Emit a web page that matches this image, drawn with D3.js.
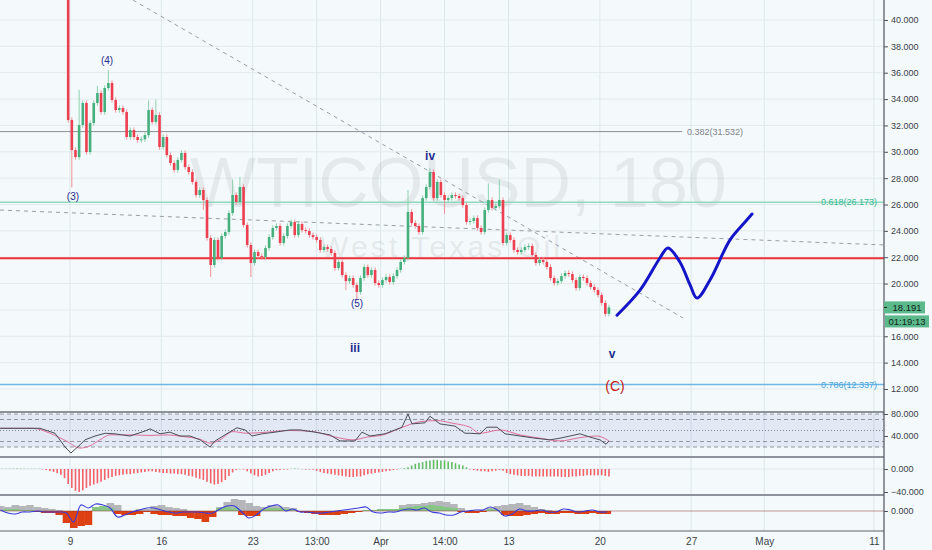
<!DOCTYPE html>
<html><head><meta charset="utf-8">
<script src="https://cdn.jsdelivr.net/npm/d3@7"></script>
<style>
html,body{margin:0;padding:0;background:#f4fafb;}
svg{display:block;font-family:"Liberation Sans",Arial,sans-serif;}
</style></head><body>
<svg id="c" width="932" height="550"></svg>
<script>
// ---------------- DATA ----------------
// 3h-ish candles, one bar = 1/5 trading day, bar 0 = Mar 9 gap-down
const firstOpen = 41.6;
const closes = [
 32.41,30.13,29.60,32.03,33.70,29.98,32.18,33.70,34.46,33.02,
 34.84,35.22,33.93,33.17,33.32,33.02,31.12,31.65,31.12,30.89,
 30.95,31.27,33.17,32.26,32.79,30.36,31.12,29.75,29.15,28.62,
 29.38,29.91,28.84,28.46,27.71,26.72,27.10,26.34,23.46,21.41,
 23.31,21.94,23.61,23.91,25.35,26.72,26.19,27.33,24.44,22.93,
 21.56,22.39,22.09,22.02,22.70,23.53,24.22,24.37,23.08,23.61,
 24.37,24.67,23.68,24.52,24.06,23.99,23.68,23.53,23.31,22.55,
 22.77,22.62,22.32,21.18,21.64,20.65,20.19,20.42,19.89,19.36,
 20.42,21.26,20.65,21.03,20.04,19.89,20.27,20.50,20.12,20.57,
 21.03,21.64,21.94,25.43,24.59,24.37,23.91,26.49,27.33,28.46,
 26.49,27.71,26.72,26.34,26.49,26.72,26.64,26.49,25.96,24.67,
 24.75,24.97,24.22,23.91,25.58,26.34,25.74,25.88,26.34,23.08,
 23.68,23.31,22.55,22.39,22.55,22.77,22.85,22.17,21.56,21.79,
 21.64,21.26,20.42,20.04,20.19,20.57,20.80,20.72,20.27,19.66,
 20.50,20.42,20.04,19.74,19.51,19.13,18.53,17.70,18.19
];
const wickBar = [1,3,8,11,22,24,37,39,45,47,50,76,79,93,99,103,115,118];
const wickHi  = [null,34.7,35.0,36.2,33.9,33.95,null,null,27.9,28.1,null,null,null,27.1,28.75,null,27.6,27.9];
const wickLo  = [27.3,null,null,null,null,null,25.6,20.5,null,null,20.5,19.5,18.7,null,null,25.3,null,null];
const lastPrice = 18.191;
const countdown = "01:19:13";

const priceTicks = [12,14,16,18,20,22,24,26,28,30,32,34,36,38,40];
const tickDays   = [0,5,10,13.5,17,20.5,24,29,34,38,44];
const tickLabels = ["9","16","23","13:00","Apr","14:00","13","20","27","May","11"];

// fibonacci levels
const fibRatio = ["0.382","0.618","0.786"];
const fibPrice = [31.532,26.173,12.337];
const redLevel = 21.92;

// trend lines [day, price]
const trendA = [[3.45,41.51],[33.55,17.39]];
const trendB = [[-3.83,25.58],[44.55,22.93]];

// projected wave path [day, price]
const waveDays  = [29.94,31.2,32.29,32.73,33.38,33.94,34.32,35.03,36.12,36.95,37.33];
const wavePrice = [17.6,19.5,21.94,22.7,21.64,19.9,18.9,20.27,23.3,24.67,25.28];

// wave labels
const lblText  = ["(4)","(3)","(5)","iv","iii","v","(C)"];
const lblDay   = [2.03,0.16,15.71,19.71,15.6,29.67,29.83];
const lblPrice = [36.89,26.57,18.45,29.68,15.11,14.66,12.23];

// RSI
const rsiDays = [-3.83,-1.64,-0.82,-0.27,0.05,0.55,0.82,1.37,1.92,2.46,3.28,4.1,4.38,4.93,5.47,6.02,6.57,7.12,7.66,7.94,8.48,9.14,9.58,9.96,10.51,11.22,12.04,12.59,13.41,14.23,14.78,15.6,15.98,16.42,17.24,17.79,18.17,18.5,18.72,19.43,19.7,20.25,21.07,21.62,21.89,22.44,22.82,23.37,23.81,24.63,25.45,26.27,26.82,27.37,27.91,28.46,29.01,29.34,29.5];
const rsiVals = [54,54,45,20,9,24,33,40,45,44,40,49,53,44,47,40,40,33,20,31,42,55,51,40,44,47,51,51,47,42,31,31,47,40,44,51,56,80,62,64,76,62,58,45,45,44,56,56,44,40,36,33,36,40,44,38,33,25,31];
const maDays = [-3.83,-2.03,-1.09,-0.16,0.55,1.09,1.64,2.19,3.45,4.38,5.31,6.18,7.12,7.66,8.21,8.92,9.69,10.78,12.04,13.3,14.4,15.49,16.26,17.13,18.06,19.16,20.09,20.96,21.89,22.44,23.54,24.63,25.73,26.82,27.91,28.85,29.5];
const maVals = [54,54,45,30,18,22,33,42,42,41,42,39,34,27,33,48,45,47,50,48,39,33,38,42,54,66,68,63,56,45,51,42,36,31,37,40,31];

// MACD histogram, one value per bar from bar -18 to bar 148
const macdHist = [
 0.5,0.5,0.6,0.6,0.7,0.7,0.6,0.6,0.5,0.4,0.3,-0.5,-2,-3.5,-5,-7,-10,-16,
 -26,-33,-38,-40,-37,-33,-29,-27,-25,-22,
 -19,-16,-14,-12,-11,-10,-9,-9,-8,-7,
 -6,-5,-4,-4,-5,-6,-7,-7,-8,-8,
 -9,-9,-10,-12,-13,-15,-17,-19,-22,-25,
 -27,-26,-23,-19,-12,-6,-2,-0.5,-1,-4,
 -8,-11,-13,-12,-10,-7,-4,-2,-1.5,-1,
 -1,0.5,0.8,0.5,-0.5,-1,-1,-1.5,-3,-5,
 -7,-8,-9,-10,-11,-12,-13,-14,-14,-13,
 -13,-11,-9,-8,-7,-6,-5,-4,-3,-2,
 -1,0.5,1.5,3,6,9,11,12,14,15,
 16,16,15,15,13,12,10,8,6,3,
 -1,-2,-3,-4,-4,-5,-4,-3,-1.5,-3,
 -7,-9,-10,-11,-12,-12,-12,-13,-13,-13,
 -13,-13,-13,-13,-13,-14,-14,-14,-13,-13,
 -12,-12,-11,-11,-11,-11,-11,-12,-13
];
const macdFirstBar = -18;

// third pane, samples every 0.4 day from day -3.8
const p3Start = -3.8, p3Step = 0.4;
const p3Grey = [5,4,6,5,6,4,3,2,1,0, 0,0,0,4,5,8,6,0,0,2, 2,5,6,4,3,2,0,0,0,0, 4,9,12,11,8,5,4,6,5,4, 3,0,0,0,0,0,0,0,0,0, 0,0,0,1,2,6,7,7,8,9, 10,9,7,3,0,0,1,3,5,6, 7,8,6,4,2,1,0,0,0,0, 0,0,0,0];
const p3Mom  = [1,2,2,1,1,-1,-2,-2,-4,-12, -17,-15,-14,4,5,3,-3,-4,-4,-3, -1,-3,-4,-4,-5,-5,-7,-8,-11,-6, 3,4,3,-4,-5,-5,2,3,3,2, 1,-1,-2,-3,-4,-4,-4,-3,-2,-1, 1,1,2,2,2,3,4,5,5,6, 5,4,3,-1,-2,-2,-1,2,1,-4, -5,-5,-4,-3,-2,-3,-3,-2,-2,-3, -3,-2,-3,-3];
const p3Line = [1,-2,-3,-1,-1,0,-1,-1,-1,-2, -11,6,3,7,6,3,-6,-4,-1,1, 3,3,1,-1,-2,-1,-1,-1,-2,-2, 2,5,5,-1,-7,-4,2,5,6,0, 2,-1,-1,-2,-2,-1,0,1,2,3, 4,-1,-2,-1,-1,1,2,1,3,-1, -2,-4,-4,-1,0,1,1,4,1,-5, -3,2,0,0,1,-1,-1,2,1,-1, 0,1,-1,-1];

// ---------------- CHART ----------------
const W = 932, H = 550, AX = 884;
const svg = d3.select("#c");
const x = d3.scaleLinear().domain([0,44]).range([70, 70 + 44*18.27]);
const y = d3.scaleLinear().domain([12,40]).range([389,20]);
const yR = d3.scaleLinear().domain([20,80]).range([447,414]);
const yM = d3.scaleLinear().domain([-40,0]).range([492,469]);
const yP = d3.scaleLinear().domain([-20,16]).range([531,495]);
const barDay = b => b/5 - 0.1;

const defs = svg.append("defs");
[["cMain",0,412],["cR",412,457],["cM",457,495],["cP",495,531]].forEach(([id,t,b]) =>
  defs.append("clipPath").attr("id",id).append("rect").attr("x",0).attr("y",t).attr("width",AX).attr("height",b-t));

svg.append("rect").attr("width",W).attr("height",H).attr("fill","#f4fafb");

// grid
svg.append("g").selectAll("line").data(tickDays).join("line")
  .attr("x1",d=>x(d)).attr("x2",d=>x(d)).attr("y1",0).attr("y2",531)
  .attr("stroke","#dde7ea").attr("stroke-width",1);
svg.append("g").selectAll("line").data(priceTicks).join("line")
  .attr("x1",0).attr("x2",AX).attr("y1",d=>y(d)).attr("y2",d=>y(d))
  .attr("stroke","#e2eaec").attr("stroke-width",1);

const main = svg.append("g").attr("clip-path","url(#cMain)");

// watermark (symbol + description), very faint
const wm = main.append("g").attr("opacity",0.07).attr("fill","#1e2a30");
wm.append("text").attr("x",190).attr("y",207).attr("font-size",70).text("WTICOUSD, 180");
wm.append("text").attr("x",440).attr("y",257).attr("font-size",30).attr("text-anchor","middle")
  .attr("textLength",240).attr("lengthAdjust","spacing").text("West Texas Oil");

// fib levels
const fibColor = ["#8a8d96","#8fd9bd","#6fb7e6"];
const fibText = ["#80838c","#35b891","#45a4e0"];
main.append("line").attr("x1",0).attr("x2",x(33.5)).attr("y1",y(fibPrice[0])).attr("y2",y(fibPrice[0]))
  .attr("stroke",fibColor[0]).attr("stroke-width",1);
main.append("text").attr("x",x(33.5)+5).attr("y",y(fibPrice[0])).attr("dy","0.35em")
  .attr("font-size",9).attr("fill",fibText[0]).text(`${fibRatio[0]}(${fibPrice[0].toFixed(3)})`);
[1,2].forEach(i=>{
  main.append("line").attr("x1",0).attr("x2",AX).attr("y1",y(fibPrice[i])).attr("y2",y(fibPrice[i]))
    .attr("stroke",fibColor[i]).attr("stroke-width",1.5);
  main.append("text").attr("x",877).attr("y",y(fibPrice[i])).attr("dy","0.35em").attr("text-anchor","end")
    .attr("font-size",9).attr("fill",fibText[i]).text(`${fibRatio[i]}(${fibPrice[i].toFixed(3)})`);
});

// trend lines
[trendA,trendB].forEach(t=>{
  main.append("line").attr("x1",x(t[0][0])).attr("y1",y(t[0][1])).attr("x2",x(t[1][0])).attr("y2",y(t[1][1]))
    .attr("stroke","#9a9ea6").attr("stroke-width",1).attr("stroke-dasharray","4,4");
});

// red level
main.append("line").attr("x1",0).attr("x2",AX).attr("y1",y(redLevel)).attr("y2",y(redLevel))
  .attr("stroke","#ee3038").attr("stroke-width",2);

// candles
const bars = closes.map((c,i)=>{
  const o = i===0 ? firstOpen : closes[i-1];
  let hi = Math.max(o,c)+0.2, lo = Math.min(o,c)-0.2;
  const j = wickBar.indexOf(i);
  if (j>=0){ if (wickHi[j]!=null) hi = wickHi[j]; if (wickLo[j]!=null) lo = wickLo[j]; }
  return {i,o,c,hi,lo,up:c>=o};
});
const upC = "#45b07d", dnC = "#ec3f50";
const cg = main.append("g");
cg.selectAll("line").data(bars).join("line")
  .attr("x1",d=>x(barDay(d.i))).attr("x2",d=>x(barDay(d.i)))
  .attr("y1",d=>y(d.hi)).attr("y2",d=>y(d.lo))
  .attr("stroke",d=>d.up?"#8fd1b0":"#f0909a").attr("stroke-width",1);
cg.selectAll("rect").data(bars).join("rect")
  .attr("x",d=>x(barDay(d.i))-1.3).attr("width",2.6)
  .attr("y",d=>y(Math.max(d.o,d.c)))
  .attr("height",d=>Math.max(1,Math.abs(y(d.o)-y(d.c))))
  .attr("fill",d=>d.up?upC:dnC);

// projected wave
const wave = waveDays.map((d,i)=>[x(d),y(wavePrice[i])]);
main.append("path").attr("d",d3.line().curve(d3.curveCatmullRom.alpha(0.5))(wave))
  .attr("fill","none").attr("stroke","#1414c8").attr("stroke-width",3).attr("stroke-linecap","round");

// wave labels
lblText.forEach((t,i)=>{
  const isC = t==="(C)", roman = !t.startsWith("(");
  main.append("text").attr("x",x(lblDay[i])).attr("y",y(lblPrice[i])).attr("dy","0.35em")
    .attr("text-anchor","middle")
    .attr("font-size",isC?14:(roman?12:10))
    .attr("font-weight",roman?"bold":"normal")
    .attr("fill",isC?"#c62020":"#1f2a8f").text(t);
});

// ---------- RSI pane ----------
const rg = svg.append("g").attr("clip-path","url(#cR)");
rg.append("rect").attr("x",0).attr("width",AX).attr("y",yR(80)).attr("height",yR(20)-yR(80))
  .attr("fill","#6f72c8").attr("opacity",0.13);
[80,70,30,20].forEach(v=>rg.append("line").attr("x1",0).attr("x2",AX).attr("y1",yR(v)).attr("y2",yR(v))
  .attr("stroke","#7d808a").attr("stroke-width",0.8).attr("stroke-dasharray","4,3"));
rg.append("line").attr("x1",0).attr("x2",AX).attr("y1",yR(50)).attr("y2",yR(50))
  .attr("stroke","#6d707a").attr("stroke-width",0.8).attr("stroke-dasharray","1,2");
rg.append("path").attr("d",d3.line().curve(d3.curveMonotoneX)(maDays.map((d,i)=>[x(d),yR(maVals[i])])))
  .attr("fill","none").attr("stroke","#e0709a").attr("stroke-width",1);
rg.append("path").attr("d",d3.line()(rsiDays.map((d,i)=>[x(d),yR(rsiVals[i])])))
  .attr("fill","none").attr("stroke","#4a4e58").attr("stroke-width",1);

// ---------- MACD histogram pane ----------
const mg = svg.append("g").attr("clip-path","url(#cM)");
mg.append("line").attr("x1",0).attr("x2",AX).attr("y1",yM(0)).attr("y2",yM(0)).attr("stroke","#e0e7ea");
mg.selectAll("line.h").data(macdHist).join("line").attr("class","h")
  .attr("x1",(d,i)=>x(barDay(i+macdFirstBar))).attr("x2",(d,i)=>x(barDay(i+macdFirstBar)))
  .attr("y1",yM(0)).attr("y2",d=>yM(d))
  .attr("stroke",d=>d>=0?"#4caf50":"#f5454f").attr("stroke-width",1.6).attr("opacity",0.85);

// ---------- third pane ----------
const pg = svg.append("g").attr("clip-path","url(#cP)");
const pw = x(p3Step)-x(0);
const px = k => x(p3Start + k*p3Step);
pg.selectAll("rect.g").data(p3Grey).join("rect").attr("class","g")
  .attr("x",(d,k)=>px(k)-pw/2).attr("width",pw+0.3)
  .attr("y",d=>yP(d)).attr("height",d=>yP(0)-yP(d)).attr("fill","#b4b6ba");
pg.selectAll("rect.m").data(p3Mom).join("rect").attr("class","m")
  .attr("x",(d,k)=>px(k)-pw/2).attr("width",pw+0.3)
  .attr("y",d=>yP(Math.max(0,d))).attr("height",d=>Math.abs(yP(0)-yP(d)))
  .attr("fill",d=>d>=0?"#86c785":"#dd4012");
pg.append("line").attr("x1",0).attr("x2",AX).attr("y1",yP(0)).attr("y2",yP(0)).attr("stroke","#8a2f2f").attr("stroke-width",0.8).attr("opacity",0.6);
pg.append("path").attr("d",d3.line().curve(d3.curveCatmullRom)(p3Line.map((v,k)=>[px(k),yP(v)])))
  .attr("fill","none").attr("stroke","#3b3bd6").attr("stroke-width",1.1);

// pane separators
[412,457,495].forEach(v=>svg.append("line").attr("x1",0).attr("x2",AX).attr("y1",v).attr("y2",v)
  .attr("stroke","#8e939b").attr("stroke-width",2));
svg.append("line").attr("x1",0).attr("x2",AX).attr("y1",531).attr("y2",531)
  .attr("stroke","#8e939b").attr("stroke-width",1.5);

// ---------- axes ----------
const styleAxis = g => { g.select(".domain").remove();
  g.selectAll("text").attr("font-size",9).attr("fill","#3a3e48").attr("font-family","Liberation Sans, Arial, sans-serif");
  g.selectAll("line").attr("stroke","#50535e"); };
// price labels hidden where the last-price marker covers them (as the platform does)
const ly = y(lastPrice);
const shownPriceTicks = priceTicks.filter(p => Math.abs(y(p)-ly) > 9);
svg.append("g").attr("transform",`translate(${AX},0)`)
  .call(d3.axisRight(y).tickValues(shownPriceTicks).tickFormat(d3.format(".3f")).tickSize(4).tickPadding(3)).call(styleAxis);
svg.append("g").attr("transform",`translate(${AX},0)`)
  .call(d3.axisRight(yR).tickValues([40,80]).tickFormat(d3.format(".3f")).tickSize(4).tickPadding(3)).call(styleAxis);
svg.append("g").attr("transform",`translate(${AX},0)`)
  .call(d3.axisRight(yM).tickValues([0,-40]).tickFormat(d3.format(".3f")).tickSize(4).tickPadding(3)).call(styleAxis);
svg.append("g").attr("transform",`translate(${AX},0)`)
  .call(d3.axisRight(yP).tickValues([0]).tickFormat(d3.format(".3f")).tickSize(4).tickPadding(3)).call(styleAxis);
svg.append("g").attr("transform","translate(0,531)")
  .call(d3.axisBottom(x).tickValues(tickDays).tickFormat((d,i)=>tickLabels[i]).tickSize(0).tickPadding(7))
  .call(g=>{g.select(".domain").remove(); g.selectAll("text").attr("font-size",10).attr("fill","#3a3e48");});

svg.append("line").attr("x1",AX).attr("x2",AX).attr("y1",0).attr("y2",H).attr("stroke","#50535e").attr("stroke-width",1.2);

// last price + countdown
svg.append("rect").attr("x",AX).attr("y",ly-6).attr("width",41).attr("height",12).attr("fill","#5bb98b");
svg.append("text").attr("x",AX+23).attr("y",ly).attr("dy","0.35em").attr("text-anchor","middle")
  .attr("font-size",9.5).attr("fill","#10241a").text(lastPrice.toFixed(3));
svg.append("line").attr("x1",AX).attr("x2",AX+3).attr("y1",ly).attr("y2",ly).attr("stroke","#10241a");
svg.append("rect").attr("x",AX+1).attr("y",ly+8).attr("width",44).attr("height",12).attr("fill","#5bb98b");
svg.append("text").attr("x",AX+23).attr("y",ly+14).attr("dy","0.35em").attr("text-anchor","middle")
  .attr("font-size",9.5).attr("fill","#10241a").text(countdown);
</script>
</body></html>
